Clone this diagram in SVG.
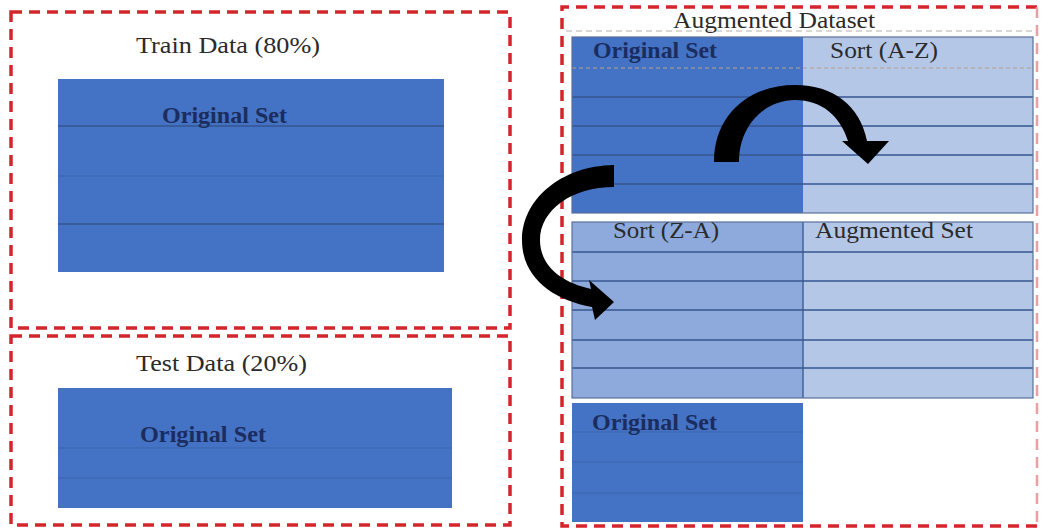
<svg xmlns="http://www.w3.org/2000/svg" width="1041" height="531" viewBox="0 0 1041 531">
  <style>
    .frame { fill: none; stroke: #d3262c; stroke-width: 3.5; stroke-dasharray: 11 7; }
    .frame-faint { fill: none; stroke: #e9a0a4; stroke-width: 2.5; stroke-dasharray: 11 7; }
    .dark { fill: #4472c4; }
    .mid { fill: #8eaadc; }
    .light { fill: #b4c7e7; }
    .edge { fill: none; stroke: #5b7099; stroke-width: 1.2; }
    .row { stroke: #34568f; stroke-width: 1.3; }
    .row-faint { stroke: #3b64ad; stroke-width: 1.2; }
    .label { font-family: "Liberation Serif", "Times New Roman", serif; font-size: 23px; fill: #2a2a2a; }
    .set { font-family: "Liberation Serif", "Times New Roman", serif; font-size: 23px; font-weight: bold; fill: #1b2d5e; }
    .arrow { fill: #000000; }
  </style>

  <rect width="1041" height="531" fill="#ffffff"/>

  <!-- Training split -->
  <g id="train-data">
    <rect class="frame" x="11" y="12" width="499" height="316"/>
    <text class="label" x="136" y="53" textLength="184" lengthAdjust="spacingAndGlyphs">Train Data (80%)</text>
    <rect class="dark" x="58" y="79" width="386" height="193"/>
    <line class="row" x1="58" y1="126" x2="444" y2="126"/>
    <line class="row-faint" x1="58" y1="176" x2="444" y2="176"/>
    <line class="row" x1="58" y1="224" x2="444" y2="224"/>
    <text class="set" x="162" y="123" textLength="125" lengthAdjust="spacingAndGlyphs">Original Set</text>
  </g>

  <!-- Test split -->
  <g id="test-data">
    <rect class="frame" x="11" y="336" width="499" height="189"/>
    <text class="label" x="136" y="371" textLength="171" lengthAdjust="spacingAndGlyphs">Test Data (20%)</text>
    <rect class="dark" x="58" y="388" width="394" height="120"/>
    <line class="row-faint" x1="58" y1="448" x2="452" y2="448"/>
    <line class="row-faint" x1="58" y1="478" x2="452" y2="478"/>
    <text class="set" x="140" y="442" textLength="126" lengthAdjust="spacingAndGlyphs">Original Set</text>
  </g>

  <!-- Augmented dataset container -->
  <g id="augmented-dataset">
    <path class="frame" d="M1037,7 H562 V526 H1037"/>
    <line class="frame-faint" x1="1037" y1="7" x2="1037" y2="526"/>
    <line x1="566" y1="31" x2="1034" y2="31" stroke="#b5b0aa" stroke-width="1" stroke-dasharray="6 4"/>
    <text class="label" x="673" y="28" textLength="202" lengthAdjust="spacingAndGlyphs" fill="#3a3428">Augmented Dataset</text>
  </g>

  <!-- Original set + Sort (A-Z) block -->
  <g id="block-original-sort-az">
    <rect class="dark" x="572" y="37" width="231" height="176"/>
    <rect class="light" x="803" y="37" width="230" height="176"/>
    <line x1="572" y1="68" x2="1033" y2="68" stroke="#b9a08c" stroke-width="1.2" stroke-dasharray="4 3"/>
    <line class="row" x1="572" y1="97" x2="1033" y2="97"/>
    <line class="row" x1="572" y1="126" x2="1033" y2="126"/>
    <line class="row" x1="572" y1="155" x2="1033" y2="155"/>
    <line class="row" x1="572" y1="184" x2="1033" y2="184"/>
    <rect class="edge" x="572" y="37" width="461" height="176"/>
    <text class="set" x="593" y="58" textLength="124" lengthAdjust="spacingAndGlyphs">Original Set</text>
    <text class="label" x="830" y="58" textLength="108" lengthAdjust="spacingAndGlyphs">Sort (A-Z)</text>
  </g>

  <!-- Sort (Z-A) + Augmented set block -->
  <g id="block-sort-za-augmented">
    <rect class="mid" x="572" y="222" width="231" height="176"/>
    <rect class="light" x="803" y="222" width="230" height="176"/>
    <line class="row" x1="572" y1="252" x2="1033" y2="252"/>
    <line class="row" x1="572" y1="281" x2="1033" y2="281"/>
    <line class="row" x1="572" y1="310" x2="1033" y2="310"/>
    <line class="row" x1="572" y1="340" x2="1033" y2="340"/>
    <line class="row" x1="572" y1="368" x2="1033" y2="368"/>
    <line class="row" x1="803" y1="222" x2="803" y2="398"/>
    <rect class="edge" x="572" y="222" width="461" height="176"/>
    <text class="label" x="613" y="238" textLength="106" lengthAdjust="spacingAndGlyphs">Sort (Z-A)</text>
    <text class="label" x="815" y="238" textLength="158" lengthAdjust="spacingAndGlyphs">Augmented Set</text>
  </g>

  <!-- Trailing original set block -->
  <g id="block-original-tail">
    <rect class="dark" x="572" y="403" width="231" height="119"/>
    <line class="row-faint" x1="572" y1="432" x2="803" y2="432"/>
    <line class="row-faint" x1="572" y1="462" x2="803" y2="462"/>
    <line class="row-faint" x1="572" y1="493" x2="803" y2="493"/>
    <text class="set" x="592" y="430" textLength="125" lengthAdjust="spacingAndGlyphs">Original Set</text>
  </g>

  <!-- Curved arrows -->
  <g id="connectors">
    <path class="arrow" d="M714,162 C714,114 750,85 795,85 C834,85 860,106 867,141 L889,141 L868,164 L842,141 L848,141 C840,116 822,100 795,100 C766,100 739,124 739,162 Z"/>
    <path class="arrow" d="M614,165 C560,166 522,200 522,240 C522,278 553,300 592,307 L595,320 L614,302 L589,280 L591,289 C560,282 540,265 540,240 C540,210 572,187 614,187 Z"/>
  </g>
</svg>
